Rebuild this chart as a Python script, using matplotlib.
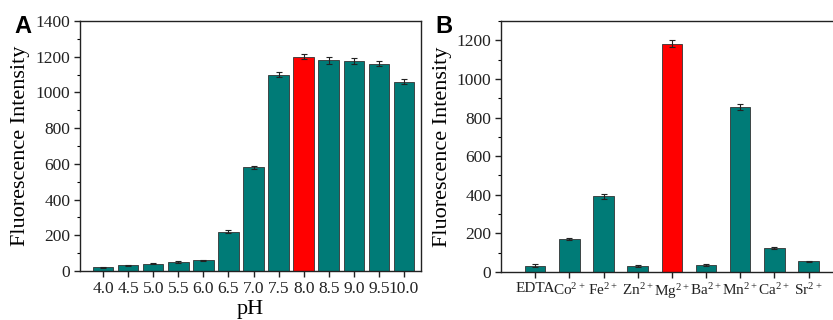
import numpy as np
import matplotlib
matplotlib.use("Agg")
import matplotlib.pyplot as plt
from matplotlib.ticker import MultipleLocator

plt.rcParams["font.family"] = ["Liberation Serif", "DejaVu Serif"]
plt.rcParams["mathtext.fontset"] = "custom"
plt.rcParams["mathtext.rm"] = "Liberation Serif"
plt.rcParams["mathtext.default"] = "regular"

# ── data ────────────────────────────────────────────────────────────────
ph_labels = ["4.0", "4.5", "5.0", "5.5", "6.0", "6.5", "7.0",
             "7.5", "8.0", "8.5", "9.0", "9.5", "10.0"]
ph_values = [20, 32, 42, 50, 60, 220, 580, 1100, 1200, 1180, 1175, 1160, 1060]
ph_errors = [4, 4, 4, 4, 3, 8, 10, 12, 15, 18, 17, 14, 13]
ph_highlight = "8.0"

ion_labels = ["EDTA", "Co$^{2+}$", "Fe$^{2+}$", "Zn$^{2+}$", "Mg$^{2+}$",
              "Ba$^{2+}$", "Mn$^{2+}$", "Ca$^{2+}$", "Sr$^{2+}$"]
ion_values = [33, 171, 392, 31, 1183, 35, 855, 123, 55]
ion_errors = [6, 7, 14, 4, 18, 4, 16, 6, 3]
ion_highlight = "Mg$^{2+}$"

TEAL = "#007b77"
RED = "#ff0000"
EDGE = "#333333"

fig = plt.figure(figsize=(8.33, 3.2), dpi=100)
axA = fig.add_axes([80 / 833, 49 / 320, 341 / 833, 250 / 320])
axB = fig.add_axes([501 / 833, 48 / 320, 340 / 833, 251 / 320])


def style_axis(ax, xsize=12.5):
    for sp in ax.spines.values():
        sp.set_linewidth(1.0)
        sp.set_color("#222222")
    ax.tick_params(axis="both", which="major", direction="out",
                   length=4.5, width=1.0, labelsize=12.5, colors="#222222",
                   labelcolor="#222222", pad=2.5)
    ax.tick_params(axis="x", labelsize=xsize)
    ax.tick_params(axis="y", which="minor", direction="out",
                   length=2.5, width=0.8)
    ax.tick_params(axis="x", which="minor", bottom=False)
    ax.yaxis.set_minor_locator(MultipleLocator(100))


# ── A: pH ───────────────────────────────────────────────────────────────
x = np.arange(len(ph_labels))
colors = [RED if l == ph_highlight else TEAL for l in ph_labels]
axA.bar(x, ph_values, width=0.82, color=colors, edgecolor=EDGE,
        linewidth=0.6, yerr=ph_errors,
        error_kw=dict(ecolor="#222222", elinewidth=0.8, capsize=2.5,
                      capthick=0.8))
axA.set_xlim(-0.92, 12.68)
axA.set_ylim(0, 1400)
axA.set_xticks(x)
axA.set_xticklabels(ph_labels)
axA.yaxis.set_major_locator(MultipleLocator(200))
axA.set_xlabel("pH", fontsize=16, labelpad=2.5)
axA.set_ylabel("Fluorescence Intensity", fontsize=16, labelpad=4)
style_axis(axA)

# ── B: metal ions ───────────────────────────────────────────────────────
xb = np.arange(1, len(ion_labels) + 1)
colors_b = [RED if l == ion_highlight else TEAL for l in ion_labels]
axB.bar(xb, ion_values, width=0.6, color=colors_b, edgecolor=EDGE,
        linewidth=0.6, yerr=ion_errors,
        error_kw=dict(ecolor="#222222", elinewidth=0.8, capsize=2.5,
                      capthick=0.8))
axB.set_xlim(0, 9.95)
axB.set_ylim(0, 1300)
axB.set_xticks(xb)
axB.set_xticklabels(ion_labels)
axB.yaxis.set_major_locator(MultipleLocator(200))
axB.set_ylabel("Fluorescence Intensity", fontsize=16, labelpad=3)
style_axis(axB, xsize=11)

fig.text(14 / 833, 1 - 33 / 320, "A", fontsize=17, fontweight="bold",
         family="Liberation Sans")
fig.text(435 / 833, 1 - 33 / 320, "B", fontsize=17, fontweight="bold",
         family="Liberation Sans")

fig.savefig("out.png", dpi=100)
